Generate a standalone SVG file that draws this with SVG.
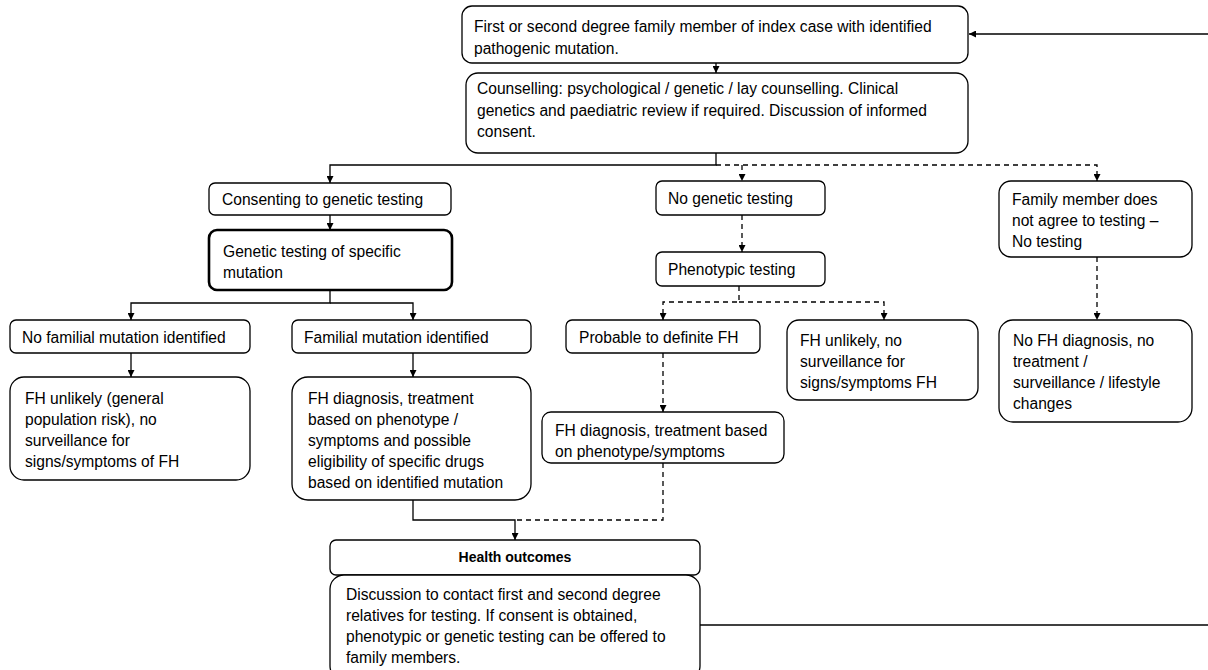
<svg xmlns="http://www.w3.org/2000/svg" width="1208" height="670" viewBox="0 0 1208 670">
<style>
.box{fill:#fff;stroke:#000;stroke-width:1.3}
.bold{stroke-width:2.6}
.t{font-family:"Liberation Sans",Arial,sans-serif;font-size:15.6px;fill:#000}
.tb{font-weight:bold;text-anchor:middle;font-size:14px}
.c{fill:none;stroke:#000;stroke-width:1.3}
.d{stroke-dasharray:5,4}
</style>
<defs>
<marker id="a" viewBox="0 0 10 10" refX="10" refY="5" markerWidth="7" markerHeight="7" markerUnits="userSpaceOnUse" orient="auto">
<path d="M0,0 L10,5 L0,10 z" fill="#000"/>
</marker>
</defs>
<rect width="1208" height="670" fill="#fff"/>
<g id="connectors">
<path class="c" d="M1208,34 H969" marker-end="url(#a)"/>
<path class="c" d="M716,63 V73" marker-end="url(#a)"/>
<path class="c" d="M716,153 V165 H330 V183" marker-end="url(#a)"/>
<path class="c d" d="M716,165 H1097 V181" marker-end="url(#a)"/>
<path class="c d" d="M742,165 V181" marker-end="url(#a)"/>
<path class="c" d="M330,215 V230" marker-end="url(#a)"/>
<path class="c" d="M330,290 V303 H131 V320" marker-end="url(#a)"/>
<path class="c" d="M330,303 H413 V320" marker-end="url(#a)"/>
<path class="c" d="M131,353 V377" marker-end="url(#a)"/>
<path class="c" d="M413,353 V377" marker-end="url(#a)"/>
<path class="c d" d="M742,215 V252" marker-end="url(#a)"/>
<path class="c d" d="M739,286 V302 H663 V320" marker-end="url(#a)"/>
<path class="c d" d="M739,302 H884 V320" marker-end="url(#a)"/>
<path class="c d" d="M663,353 V412" marker-end="url(#a)"/>
<path class="c d" d="M1097,257 V320" marker-end="url(#a)"/>
<path class="c" d="M413,500 V520 H515 V540" marker-end="url(#a)"/>
<path class="c d" d="M663,463 V520 H515"/>
<path class="c" d="M700,625 H1208"/>
</g>
<g id="n1">
<rect class="box" x="462" y="6" width="506" height="57" rx="10"/>
<text class="t" x="474" y="32">First or second degree family member of index case with identified</text>
<text class="t" x="474" y="54">pathogenic mutation.</text>
</g>
<g id="n2">
<rect class="box" x="466" y="73" width="502" height="80" rx="12"/>
<text class="t" x="477" y="94">Counselling: psychological / genetic / lay counselling. Clinical</text>
<text class="t" x="477" y="116">genetics and paediatric review if required. Discussion of informed</text>
<text class="t" x="477" y="137">consent.</text>
</g>
<g id="n3">
<rect class="box" x="209" y="183" width="242" height="32" rx="6"/>
<text class="t" x="222" y="205">Consenting to genetic testing</text>
</g>
<g id="n4">
<rect class="box bold" x="209" y="230" width="243" height="60" rx="8"/>
<text class="t" x="223" y="257">Genetic testing of specific</text>
<text class="t" x="223" y="278">mutation</text>
</g>
<g id="n5">
<rect class="box" x="10" y="320" width="240" height="33" rx="6"/>
<text class="t" x="22" y="343">No familial mutation identified</text>
</g>
<g id="n6">
<rect class="box" x="292" y="320" width="239" height="33" rx="6"/>
<text class="t" x="304" y="343">Familial mutation identified</text>
</g>
<g id="n7">
<rect class="box" x="10" y="377" width="240" height="103" rx="14"/>
<text class="t" x="25" y="404">FH unlikely (general</text>
<text class="t" x="25" y="425">population risk), no</text>
<text class="t" x="25" y="446">surveillance for</text>
<text class="t" x="25" y="467">signs/symptoms of FH</text>
</g>
<g id="n8">
<rect class="box" x="292" y="377" width="239" height="123" rx="16"/>
<text class="t" x="308" y="404">FH diagnosis, treatment</text>
<text class="t" x="308" y="425">based on phenotype /</text>
<text class="t" x="308" y="446">symptoms and possible</text>
<text class="t" x="308" y="467">eligibility of specific drugs</text>
<text class="t" x="308" y="488">based on identified mutation</text>
</g>
<g id="n9">
<rect class="box" x="656" y="181" width="169" height="34" rx="6"/>
<text class="t" x="668" y="204">No genetic testing</text>
</g>
<g id="n10">
<rect class="box" x="656" y="252" width="169" height="34" rx="6"/>
<text class="t" x="668" y="275">Phenotypic testing</text>
</g>
<g id="n11">
<rect class="box" x="999" y="181" width="193" height="76" rx="12"/>
<text class="t" x="1012" y="205">Family member does</text>
<text class="t" x="1012" y="226">not agree to testing –</text>
<text class="t" x="1012" y="247">No testing</text>
</g>
<g id="n12">
<rect class="box" x="566" y="320" width="194" height="33" rx="6"/>
<text class="t" x="579" y="343">Probable to definite FH</text>
</g>
<g id="n13">
<rect class="box" x="787" y="320" width="191" height="80" rx="12"/>
<text class="t" x="800" y="346">FH unlikely, no</text>
<text class="t" x="800" y="367">surveillance for</text>
<text class="t" x="800" y="388">signs/symptoms FH</text>
</g>
<g id="n14">
<rect class="box" x="999" y="320" width="193" height="102" rx="14"/>
<text class="t" x="1013" y="346">No FH diagnosis, no</text>
<text class="t" x="1013" y="367">treatment /</text>
<text class="t" x="1013" y="388">surveillance / lifestyle</text>
<text class="t" x="1013" y="409">changes</text>
</g>
<g id="n15">
<rect class="box" x="542" y="412" width="242" height="51" rx="9"/>
<text class="t" x="555" y="436">FH diagnosis, treatment based</text>
<text class="t" x="555" y="457">on phenotype/symptoms</text>
</g>
<g id="n16">
<rect class="box" x="330" y="540" width="370" height="35" rx="6"/>
<text class="t tb" x="515" y="562">Health outcomes</text>
</g>
<g id="n17">
<rect class="box" x="330" y="575" width="370" height="105" rx="14"/>
<text class="t" x="346" y="600">Discussion to contact first and second degree</text>
<text class="t" x="346" y="621">relatives for testing. If consent is obtained,</text>
<text class="t" x="346" y="642">phenotypic or genetic testing can be offered to</text>
<text class="t" x="346" y="663">family members.</text>
</g>
</svg>
